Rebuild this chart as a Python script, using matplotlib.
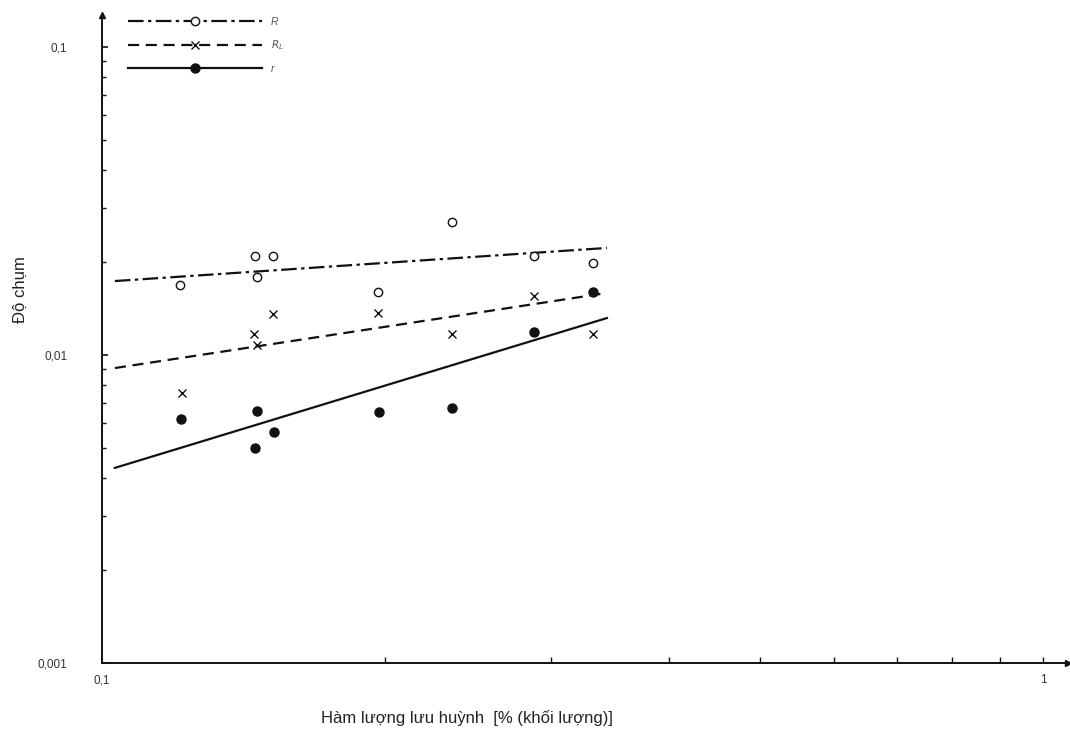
import matplotlib.pyplot as plt
from matplotlib.lines import Line2D

plt.rcParams['font.family'] = ['Liberation Sans', 'DejaVu Sans']

# R - open circles
R_x = [0.1210, 0.1454, 0.1462, 0.1520, 0.1965, 0.2355, 0.2880, 0.3325]
R_y = [0.0169, 0.0210, 0.0179, 0.0210, 0.0160, 0.0270, 0.0210, 0.0199]
# R_L - crosses
RL_x = [0.1216, 0.1450, 0.1462, 0.1520, 0.1965, 0.2355, 0.2880, 0.3325]
RL_y = [0.00752, 0.0117, 0.0108, 0.0136, 0.0137, 0.0117, 0.0156, 0.0117]
# r - filled dots
r_x = [0.1213, 0.1462, 0.1523, 0.1454, 0.1970, 0.2355, 0.2880, 0.3325]
r_y = [0.00620, 0.00658, 0.00562, 0.00499, 0.00653, 0.00673, 0.0119, 0.0160]

# fitted lines (end points)
fit_x = [0.1032, 0.344]
fit_R = [0.01738, 0.02226]
fit_RL = [0.00907, 0.0159]
fit_r = [0.00430, 0.01318]

labels = ['R', '$R_L$', 'r']

fig = plt.figure(figsize=(10.70, 7.32), dpi=100)
ax = fig.add_axes([102 / 1070, 69 / 732, 966 / 1070, 648 / 732])
ax.set_xscale('log')
ax.set_yscale('log')
ax.set_xlim(0.1, 1.063)
ax.set_ylim(0.001, 0.127)

ink = '#111111'
ax.plot(fit_x, fit_R, color=ink, lw=1.6, ls=(0, (7, 2, 1.5, 2)))
ax.plot(fit_x, fit_RL, color=ink, lw=1.6, ls=(0, (5, 3)))
ax.plot(fit_x, fit_r, color=ink, lw=1.6, ls='-')

ax.plot(R_x, R_y, 'o', ls='none', mfc='white', mec=ink, mew=1.0, ms=6)
ax.plot(RL_x, RL_y, 'x', ls='none', color=ink, mew=1.0, ms=6)
ax.plot(r_x, r_y, 'o', ls='none', color=ink, ms=6.5)

# axes styling
for s in ['top', 'right']:
    ax.spines[s].set_visible(False)
for s in ['left', 'bottom']:
    ax.spines[s].set_linewidth(1.4)
    ax.spines[s].set_color(ink)
ax.plot(1, 0, '>', color=ink, ms=5, transform=ax.transAxes, clip_on=False)
ax.plot(0, 1, '^', color=ink, ms=4, transform=ax.transAxes, clip_on=False)

ax.set_yticks([0.001, 0.01, 0.1], labels=['0,001', '0,01', '0,1'])
ax.set_xticks([0.1, 1], labels=['0,1', '1'])
ax.tick_params(axis='y', which='major', direction='in', length=4.5, width=1.2,
               pad=25, labelsize=8.5, colors=ink, labelcolor='#333333')
ax.tick_params(axis='y', which='minor', direction='in', length=3, width=1.0, colors=ink)
ax.tick_params(axis='x', which='major', direction='in', length=4, width=1.0,
               pad=8, labelsize=8.5, colors=ink, labelcolor='#333333')
ax.tick_params(axis='x', which='minor', direction='in', length=4, width=1.0, colors=ink)
ax.xaxis.get_major_ticks()[0].tick1line.set_visible(False)

# legend
handles = [
    Line2D([], [], color=ink, lw=1.6, ls=(0, (7, 2, 1.5, 2)), marker='o', mfc='white', mec=ink, ms=6),
    Line2D([], [], color=ink, lw=1.6, ls=(0, (5, 3)), marker='x', mew=1.0, ms=6),
    Line2D([], [], color=ink, lw=1.6, ls='-', marker='o', ms=6.5),
]
leg = ax.legend(handles, labels, loc='upper left', bbox_to_anchor=(26 / 966, 0.997),
                frameon=False, fontsize=7.5, handlelength=12.9, handletextpad=0.8,
                labelspacing=1.1, borderpad=0, borderaxespad=0, numpoints=1)
for t in leg.get_texts():
    t.set_color('#555555')
    t.set_fontstyle('italic')

fig.text(467 / 1070, 1 - 718 / 732, 'Hàm lượng lưu huỳnh  [% (khối lượng)]',
         ha='center', va='center', fontsize=12, color='#222222')
fig.text(20 / 1070, 1 - 290 / 732, 'Độ chụm', rotation=90,
         ha='center', va='center', fontsize=12, color='#222222')

fig.savefig('out.png', dpi=100, facecolor='white')
